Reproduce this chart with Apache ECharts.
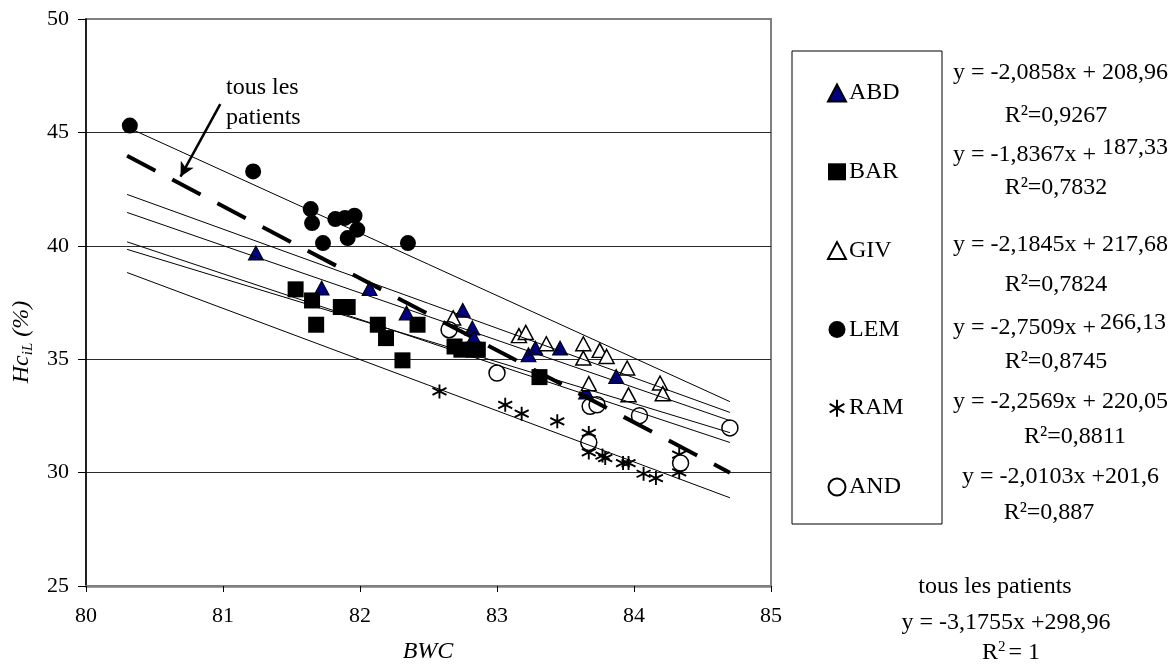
<!DOCTYPE html>
<html>
<head>
<meta charset="utf-8">
<script src="https://cdn.jsdelivr.net/npm/echarts@6/dist/echarts.min.js"></script>
<style>
html,body{margin:0;padding:0;background:#fff;}
#chart{width:1176px;height:668px;}
</style>
</head>
<body>
<div id="chart"></div>
<script>
// ---- data ----
const SERIES_NAMES = ['ABD', 'BAR', 'GIV', 'LEM', 'RAM', 'AND'];

const ABD_X = [81.24, 81.72, 82.07, 82.34, 82.75, 82.82, 82.83, 83.23, 83.28, 83.46, 83.65, 83.87];
const ABD_Y = [39.68, 38.14, 38.12, 37.04, 37.16, 36.38, 35.96, 35.20, 35.49, 35.49, 33.55, 34.24];

const BAR_X = [81.53, 81.65, 81.68, 81.86, 81.91, 82.13, 82.19, 82.31, 82.42, 82.69, 82.74, 82.83, 82.86, 83.31];
const BAR_Y = [38.08, 37.59, 36.52, 37.30, 37.30, 36.52, 35.93, 34.95, 36.52, 35.56, 35.42, 35.42, 35.42, 34.21];

const GIV_X = [82.68, 83.16, 83.21, 83.36, 83.63, 83.63, 83.75, 83.80, 83.95, 83.67, 83.96, 84.19, 84.21];
const GIV_Y = [36.82, 36.04, 36.18, 35.68, 35.68, 35.05, 35.39, 35.12, 34.61, 33.92, 33.43, 33.95, 33.48];

const LEM_X = [80.32, 81.22, 81.64, 81.65, 81.73, 81.82, 81.89, 81.96, 81.98, 81.91, 82.35];
const LEM_Y = [45.30, 43.28, 41.62, 41.00, 40.12, 41.18, 41.23, 41.33, 40.71, 40.34, 40.12];

const RAM_X = [82.58, 83.06, 83.18, 83.44, 83.67, 83.67, 83.77, 83.79, 83.92, 83.96, 84.07, 84.16, 84.33, 84.33];
const RAM_Y = [33.58, 32.99, 32.60, 32.26, 31.75, 30.89, 30.75, 30.64, 30.42, 30.42, 29.95, 29.76, 30.79, 30.01];

const AND_X = [82.65, 83.00, 83.68, 83.73, 84.04, 84.70, 83.67, 84.34];
const AND_Y = [36.30, 34.39, 32.92, 32.99, 32.51, 31.97, 31.33, 30.42];

// trendline equations printed on the chart (slope, intercept)
const TREND_SLOPE = [-2.0858, -1.8367, -2.1845, -2.7509, -2.2569, -2.0103];
const TREND_INTERCEPT = [208.96, 187.33, 217.68, 266.13, 220.05, 201.6];
const ALL_SLOPE = -3.1755;
const ALL_INTERCEPT = 298.96;
const TREND_X = [80.3, 84.7];

// arrow of the "tous les patients" annotation (data coordinates)
const ARROW_FROM = [80.98, 46.25];
const ARROW_TO = [80.69, 43.05];

const X_MIN = 80, X_MAX = 85, X_STEP = 1;
const Y_MIN = 25, Y_MAX = 50, Y_STEP = 5;

// ---- build ----
const FONT = "'Liberation Serif', 'DejaVu Serif', serif";
const XS = [ABD_X, BAR_X, GIV_X, LEM_X, RAM_X, AND_X];
const YS = [ABD_Y, BAR_Y, GIV_Y, LEM_Y, RAM_Y, AND_Y];
const pairs = (xs, ys) => xs.map((x, i) => [x, ys[i]]);

const STAR = 'path://M5,0L5,10M0.7,2.5L9.3,7.5M9.3,2.5L0.7,7.5';
const styles = {
  ABD: { symbol: 'triangle', symbolSize: [15, 14], itemStyle: { color: '#000080', borderColor: '#000', borderWidth: 1, opacity: 1 } },
  BAR: { symbol: 'rect', symbolSize: 16, itemStyle: { color: '#000', borderColor: '#000', borderWidth: 0, opacity: 1 } },
  GIV: { symbol: 'triangle', symbolSize: [15, 14], itemStyle: { color: '#fff', borderColor: '#000', borderWidth: 1.5, opacity: 1 } },
  LEM: { symbol: 'circle', symbolSize: 16, itemStyle: { color: '#000', borderColor: '#000', borderWidth: 0, opacity: 1 } },
  RAM: { symbol: STAR, symbolSize: 14, itemStyle: { color: 'rgba(0,0,0,0)', borderColor: '#000', borderWidth: 1.9, opacity: 1 } },
  AND: { symbol: 'circle', symbolSize: 16, itemStyle: { color: '#fff', borderColor: '#000', borderWidth: 1.5, opacity: 1 } }
};

const series = [];
SERIES_NAMES.forEach((n, i) => {
  series.push(Object.assign({
    name: n, type: 'scatter', data: pairs(XS[i], YS[i]), z: 3 + i * 0.01, silent: true
  }, styles[n]));
});
SERIES_NAMES.forEach((n, i) => {
  series.push({
    name: n + ' trend', type: 'line', showSymbol: false, silent: true, z: 5,
    data: TREND_X.map(x => [x, TREND_SLOPE[i] * x + TREND_INTERCEPT[i]]),
    lineStyle: { color: '#000', width: 1 }
  });
});
series.push({
  name: 'tous les patients', type: 'line', showSymbol: false, silent: true, z: 6,
  data: TREND_X.map(x => [x, ALL_SLOPE * x + ALL_INTERCEPT]),
  lineStyle: { color: '#000', width: 4, type: [32, 19], cap: 'butt' },
  markLine: {
    silent: true, symbol: ['none', 'arrow'], symbolSize: [11, 14],
    label: { show: false },
    lineStyle: { color: '#000', width: 2.5, type: 'solid' },
    data: [[{ coord: ARROW_FROM }, { coord: ARROW_TO }]]
  }
});

function T(x, y, text, align, extra) {
  return Object.assign({
    type: 'text', x: x, y: y, silent: true,
    style: Object.assign({ text: text, font: '24px ' + FONT, fill: '#000', textAlign: align || 'left', textVerticalAlign: 'middle' }, extra || {})
  });
}

const graphics = [
  { type: 'rect', shape: { x: 792, y: 51, width: 150, height: 473 }, style: { fill: 'none', stroke: '#000', lineWidth: 1 }, silent: true },
  T(953, 73, 'y = -2,0858x + 208,96'),
  T(1056, 116, 'R²=0,9267', 'center'),
  T(953, 155, 'y = -1,8367x +'),
  T(1102, 148, '187,33'),
  T(1056, 188, 'R²=0,7832', 'center'),
  T(953, 245, 'y = -2,1845x + 217,68'),
  T(1056, 285, 'R²=0,7824', 'center'),
  T(953, 328, 'y = -2,7509x +'),
  T(1100, 323, '266,13'),
  T(1056, 362, 'R²=0,8745', 'center'),
  T(953, 402, 'y = -2,2569x + 220,05'),
  T(1075, 437, 'R²=0,8811', 'center'),
  T(962, 477, 'y = -2,0103x +201,6'),
  T(1049, 513, 'R²=0,887', 'center'),
  T(995, 587, 'tous les patients', 'center'),
  T(1006, 623, 'y = -3,1755x +298,96', 'center'),
  {
    type: 'text', x: 1011, y: 653, silent: true,
    style: {
      text: '{r|R}{s|2}{r|= 1}', textAlign: 'center', textVerticalAlign: 'middle',
      rich: {
        r: { font: '24px ' + FONT, fill: '#000', lineHeight: 26 },
        s: { font: '15px ' + FONT, fill: '#000', lineHeight: 15, verticalAlign: 'top', padding: [0, 3, 0, 0] }
      }
    }
  },
  {
    type: 'text', x: 226, y: 103, silent: true,
    style: { text: 'tous les\npatients', font: '24px ' + FONT, fill: '#000', textAlign: 'left', textVerticalAlign: 'middle', lineHeight: 30 }
  },
  {
    type: 'text', x: 428, y: 652, silent: true,
    style: { text: 'BWC', font: 'italic 24px ' + FONT, fill: '#000', textAlign: 'center', textVerticalAlign: 'middle' }
  },
  {
    type: 'text', x: 22, y: 342, rotation: Math.PI / 2, silent: true,
    style: {
      text: '{i|Hc}{s|iL}{i| (%)}', textAlign: 'center', textVerticalAlign: 'middle',
      rich: {
        i: { font: 'italic 24px ' + FONT, fill: '#000', lineHeight: 28 },
        s: { font: 'italic 15px ' + FONT, fill: '#000', lineHeight: 14, verticalAlign: 'bottom' }
      }
    }
  }
];

const chart = echarts.init(document.getElementById('chart'), null, { renderer: 'canvas' });
chart.setOption({
  animation: false,
  backgroundColor: '#fff',
  grid: { left: 86, top: 19, width: 685, height: 567, show: true, borderColor: '#808080', borderWidth: 2, backgroundColor: 'transparent' },
  xAxis: {
    type: 'value', min: X_MIN, max: X_MAX, interval: X_STEP,
    axisLine: { show: true, onZero: false, lineStyle: { color: '#808080', width: 2.5 } },
    axisTick: { show: true, length: 6, lineStyle: { color: '#000', width: 1 } },
    axisLabel: { color: '#000', fontSize: 22, fontFamily: FONT, margin: 19 },
    splitLine: { show: false }
  },
  yAxis: {
    type: 'value', min: Y_MIN, max: Y_MAX, interval: Y_STEP,
    axisLine: { show: true, onZero: false, lineStyle: { color: '#000', width: 1.5 } },
    axisTick: { show: true, length: 8, lineStyle: { color: '#000', width: 1 } },
    axisLabel: { color: '#000', fontSize: 22, fontFamily: FONT, margin: 17 },
    splitLine: { show: true, showMinLine: false, showMaxLine: false, lineStyle: { color: '#2a2a2a', width: 1.2 } }
  },
  legend: {
    data: SERIES_NAMES, orient: 'vertical', left: 827, top: 81, padding: 0,
    itemWidth: 18, itemHeight: 17, itemGap: 54.8,
    textStyle: { color: '#000', fontSize: 24, fontFamily: FONT, lineHeight: 24, padding: [0, 0, 0, -2] },
    selectedMode: false
  },
  series: series,
  graphic: graphics
});
</script>
</body>
</html>
